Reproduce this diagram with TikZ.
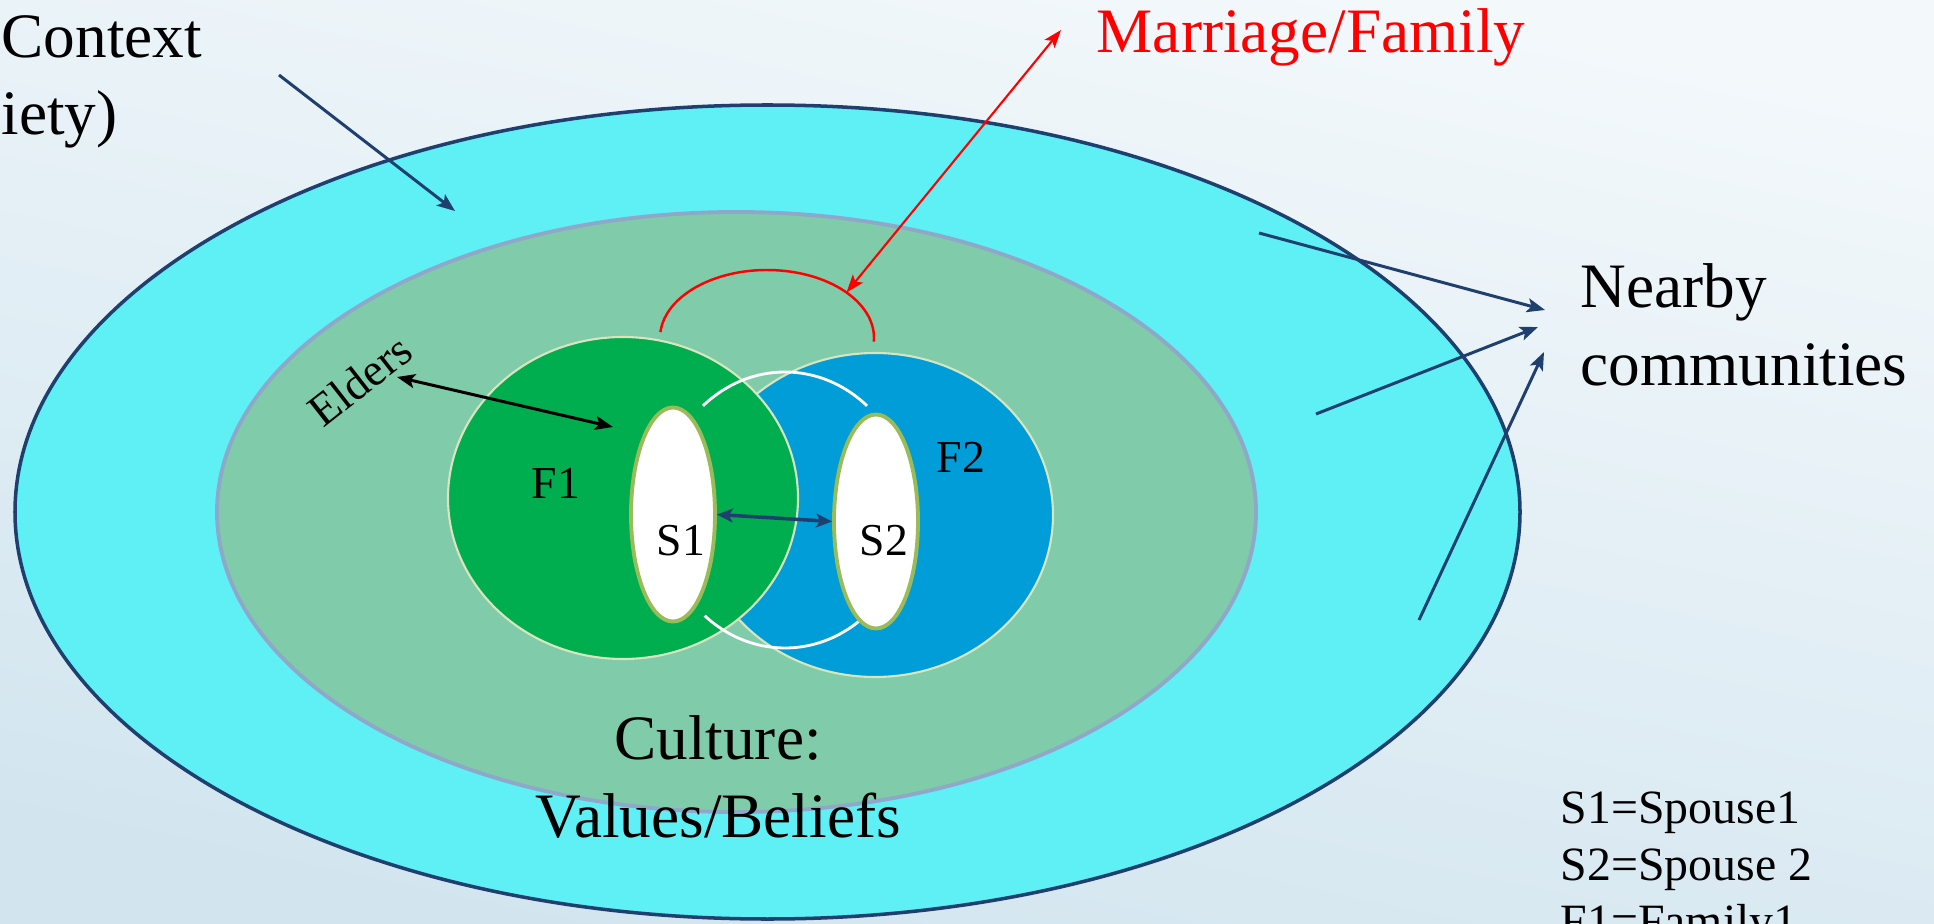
\documentclass[tikz,border=0pt]{standalone}
\usepackage{fontspec}
\setmainfont{Liberation Serif}
\usetikzlibrary{positioning,arrows.meta,shapes.geometric}
\definecolor{bgtop}{HTML}{F3F8FB}
\definecolor{bgbot}{HTML}{D2E5EF}
\definecolor{socfill}{HTML}{5FF0F6}
\definecolor{socline}{HTML}{1F3F6E}
\definecolor{culfill}{HTML}{80CBA9}
\definecolor{culline}{HTML}{8FA8C9}
\definecolor{famone}{HTML}{00AE4F}
\definecolor{famtwo}{HTML}{009DD8}
\definecolor{famline}{HTML}{D9E5BF}
\definecolor{spline}{HTML}{9BBB59}
\definecolor{arrowblue}{HTML}{1F3F6E}
\tikzset{
  bigtext/.style={font=\fontsize{18}{22}\selectfont, inner sep=0pt},
  smalltext/.style={font=\fontsize{13}{16.5}\selectfont, inner sep=0pt},
  legendtext/.style={font=\fontsize{13.6}{16.2}\selectfont, inner sep=0pt},
  famcircle/.style={ellipse, draw=famline, line width=0.6pt, inner sep=0pt},
  spouse/.style={ellipse, draw=spline, fill=white, line width=1.1pt, inner sep=0pt,
    minimum width=8.4mm, minimum height=21.4mm},
  bluearrow/.style={-{Stealth[length=1.8mm, width=1.4mm, inset=0.4mm]}, arrowblue, line width=0.85pt},
  redarrow/.style={{Stealth[length=1.8mm, width=1.3mm, inset=0.4mm]}-{Stealth[length=1.8mm, width=1.3mm, inset=0.4mm]}, red, line width=0.6pt},
  eldarrow/.style={{Stealth[length=1.8mm, width=1.4mm, inset=0.4mm]}-{Stealth[length=1.8mm, width=1.4mm, inset=0.4mm]}, black, line width=0.85pt},
  spousearrow/.style={{Stealth[length=1.6mm, width=1.4mm, inset=0.4mm]}-{Stealth[length=1.6mm, width=1.4mm, inset=0.4mm]}, arrowblue, line width=1pt},
}

\begin{document}
\begin{tikzpicture}
  \useasboundingbox (0,0) rectangle (19.34,9.23);
  \shade[top color=bgtop, bottom color=bgbot, shading angle=-12] (0,0) rectangle (19.34,9.23);
  % society and culture
  \draw[socline, line width=1pt, fill=socfill] (7.675,4.11) ellipse [x radius=7.525, y radius=4.07];
  \draw[culline, line width=1.1pt, fill=culfill] (7.365,4.11) ellipse [x radius=5.195, y radius=3.0];
  % families
  \node[famcircle, fill=famtwo, minimum width=35.6mm, minimum height=32.4mm] (f2) at (8.75,4.08) {};
  \node[famcircle, fill=famone, minimum width=35mm, minimum height=32.2mm] (f1) at (6.23,4.25) {};
  \coordinate (overlap) at (7.85,4.13);
  \draw[white, line width=0.8pt] (overlap) ++(131:1.25 and 1.38) arc[start angle=131, end angle=49, x radius=1.25, y radius=1.38];
  \draw[white, line width=0.8pt] (overlap) ++(230:1.25 and 1.38) arc[start angle=230, end angle=308, x radius=1.25, y radius=1.38];
  % spouses
  \node[spouse] (s1) at (6.73,4.085) {};
  \node[spouse] (s2) at (8.76,4.015) {};
  \node[smalltext, anchor=base] (f1lab) at (5.56,4.25) {F1};
  \node[smalltext, anchor=base] (f2lab) at (9.61,4.51) {F2};
  \node[smalltext, anchor=base] (s1lab) at (6.81,3.68) {S1};
  \node[smalltext, anchor=base] (s2lab) at (8.84,3.68) {S2};
  \draw[spousearrow] (s1.east) -- (s2.west);
  % marriage
  \coordinate (famc) at (7.67,5.85);
  \draw[red, line width=0.7pt] (famc) ++(175:1.07 and 0.68) arc[start angle=175, end angle=-3, x radius=1.07, y radius=0.68];
  \node[bigtext, text=red, anchor=base west] (marriage) at (10.96,8.70) {Marriage/Family};
  \coordinate (mlow) at ([shift={(42:1.07 and 0.68)}]famc);
  \coordinate (mtop) at (10.61,8.93);
  \draw[redarrow] (mlow) -- (mtop);
  % elders
  \node[smalltext, rotate=38] (elders) at (3.60,5.43) {Elders};
  \coordinate (eldfrom) at (3.97,5.46);
  \coordinate (eldto) at (6.13,4.96);
  \draw[eldarrow] (eldfrom) -- (eldto);
  % context (base = last line)
  \node[bigtext, anchor=base west, align=left] (context) at (0.01,7.88) {Context\\iety)};
  \coordinate (ctxfrom) at (2.79,8.48);
  \coordinate (ctxto) at (4.55,7.12);
  \draw[bluearrow] (ctxfrom) -- (ctxto);
  % culture
  \node[bigtext, anchor=base, align=center] (culture) at (7.18,0.86) {Culture:\\Values/Beliefs};
  % nearby communities
  \node[bigtext, anchor=base west, align=left] (nearby) at (15.80,5.38) {Nearby\\communities};
  \coordinate (nbfromA) at (12.59,6.90);
  \coordinate (nbtoA) at (15.45,6.13);
  \coordinate (nbfromB) at (13.16,5.09);
  \coordinate (nbtoB) at (15.38,5.96);
  \coordinate (nbfromC) at (14.19,3.03);
  \coordinate (nbtoC) at (15.44,5.71);
  \draw[bluearrow] (nbfromA) -- (nbtoA);
  \draw[bluearrow] (nbfromB) -- (nbtoB);
  \draw[bluearrow] (nbfromC) -- (nbtoC);
  % legend
  \node[legendtext, anchor=base west, align=left] (legend) at (15.60,-0.14) {S1=Spouse1\\S2=Spouse 2\\F1=Family1};
\end{tikzpicture}
\end{document}
